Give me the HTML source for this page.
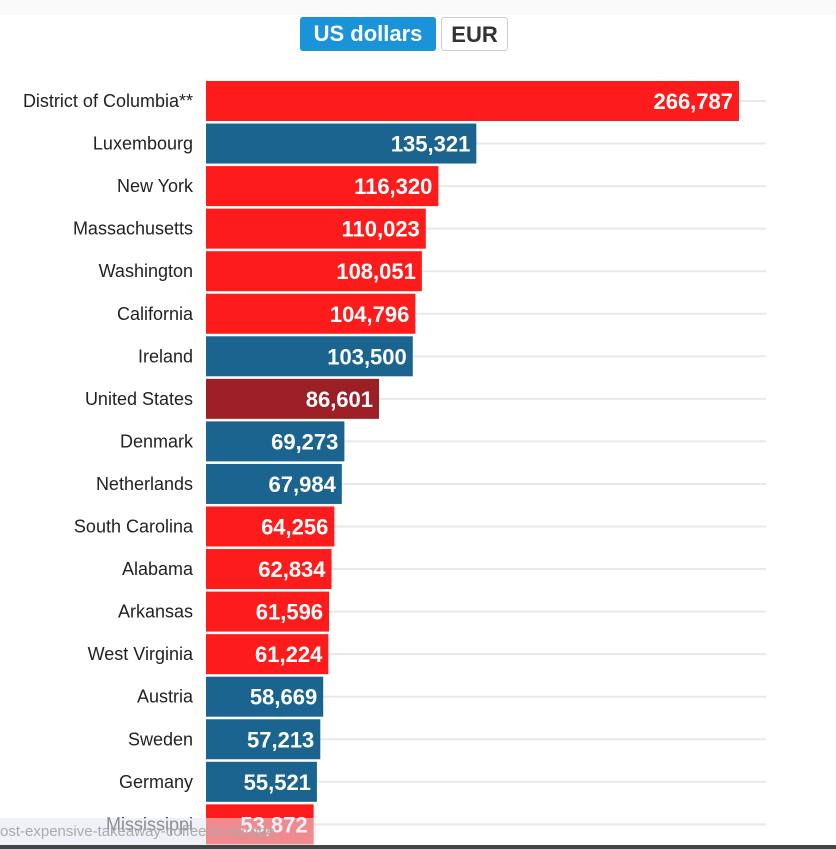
<!DOCTYPE html>
<html><head><meta charset="utf-8"><style>
body{margin:0;width:836px;height:849px;overflow:hidden;background:#fff;font-family:"Liberation Sans",sans-serif;position:relative}
.topband{position:absolute;left:0;top:0;width:836px;height:15px;background:#fafafa}
.btn{position:absolute;top:17px;height:34px;line-height:34px;font-weight:bold;font-size:22px;text-align:center;border-radius:3px;box-sizing:border-box}
.status{position:absolute;left:0;top:818px;width:316px;height:27px;background:rgba(225,230,238,0.55);color:#aaa;font-size:15px;line-height:27px;white-space:nowrap;overflow:hidden}
.bottomline{position:absolute;left:0;top:845px;width:836px;height:4px;background:#444}
</style></head><body>
<div class="topband"></div>
<div class="btn" style="left:300px;width:136px;background:#1b93d8;color:#fff">US dollars</div>
<div class="btn" style="left:441px;width:67px;background:#fff;color:#333;border:1px solid #ccc">EUR</div>
<svg id="chart" width="836" height="849" style="position:absolute;left:0;top:0"></svg>
<div class="status">ost-expensive-takeaway-coffee-in-europe</div>
<div class="bottomline"></div>
<script>
const categories=["District of Columbia**","Luxembourg","New York","Massachusetts","Washington","California","Ireland","United States","Denmark","Netherlands","South Carolina","Alabama","Arkansas","West Virginia","Austria","Sweden","Germany","Mississippi"];
const values=[266787,135321,116320,110023,108051,104796,103500,86601,69273,67984,64256,62834,61596,61224,58669,57213,55521,53872];
const groups=["state","country","state","state","state","state","country","us","country","country","state","state","state","state","country","country","country","state"];
const colors={state:"#fe1b1b",country:"#1b6490",us:"#9b1f24"};
const svg=document.getElementById('chart');
const NS="http://www.w3.org/2000/svg";
const x0=206,xMax=266787,wMax=533;
function xs(v){return v/xMax*wMax;}
function yc(i){return 101+i*42.55;}
categories.forEach((c,i)=>{
  const y=yc(i);
  const g=document.createElementNS(NS,'line');
  g.setAttribute('x1',x0);g.setAttribute('x2',766);g.setAttribute('y1',y);g.setAttribute('y2',y);
  g.setAttribute('stroke','#e8e8e8');g.setAttribute('stroke-width','2');
  
  
  svg.appendChild(g);
  const r=document.createElementNS(NS,'rect');
  r.setAttribute('x',x0);r.setAttribute('y',y-20);r.setAttribute('width',xs(values[i]));r.setAttribute('height',40);
  r.setAttribute('fill',colors[groups[i]]);
  
  
  svg.appendChild(r);
  const t=document.createElementNS(NS,'text');
  t.setAttribute('x',x0+xs(values[i])-6);t.setAttribute('y',y+8);t.setAttribute('text-anchor','end');
  t.setAttribute('fill','#fff');t.setAttribute('font-size','22');t.setAttribute('font-weight','bold');
  t.setAttribute('font-family','Liberation Sans, sans-serif');
  t.textContent=values[i].toLocaleString('en-US');
  
  
  svg.appendChild(t);
  const l=document.createElementNS(NS,'text');
  l.setAttribute('x',193);l.setAttribute('y',y+6);l.setAttribute('text-anchor','end');
  l.setAttribute('fill','#222');l.setAttribute('font-size','18');
  l.setAttribute('font-family','Liberation Sans, sans-serif');
  l.textContent=c;
  
  
  svg.appendChild(l);
});
</script>
</body></html>
